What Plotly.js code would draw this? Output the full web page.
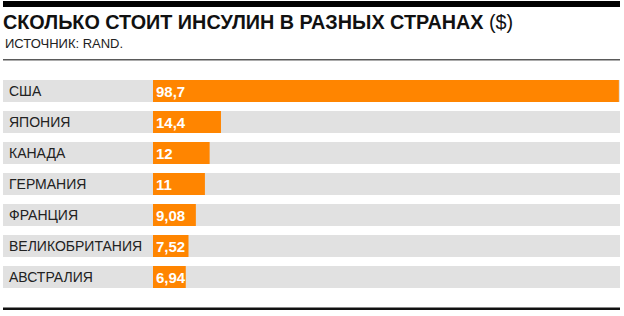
<!DOCTYPE html>
<html><head><meta charset="utf-8">
<script src="https://cdn.plot.ly/plotly-3.0.1.min.js"></script>
<style>html,body{margin:0;padding:0;background:#fff}#chart{width:624px;height:316px}</style>
</head><body><div id="chart"></div>
<script>
const countries = ["США","ЯПОНИЯ","КАНАДА","ГЕРМАНИЯ","ФРАНЦИЯ","ВЕЛИКОБРИТАНИЯ","АВСТРАЛИЯ"];
const prices = [98.7, 14.4, 12, 11, 9.08, 7.52, 6.94];
const priceLabels = ["98,7","14,4","12","11","9,08","7,52","6,94"];
const titleText = "СКОЛЬКО СТОИТ ИНСУЛИН В РАЗНЫХ СТРАНАХ";
const titleUnit = "($)";
const sourceText = "ИСТОЧНИК: RAND.";

const orange = "#FF8500";
const gray = "#E1E1E1";
const W = 624, H = 316;
const rowTop = 91, rowPitch = 31;   // pixel centre of first row, row spacing
function py(p){ return 1 - p/H; }
function px(p){ return p/W; }

// y axis spans the whole figure; category range chosen so rows sit at the right pixels
const yRange = [(H - rowTop)/rowPitch, -rowTop/rowPitch];

const shapes = [];
countries.forEach((c,i)=>{
  shapes.push({type:"rect", xref:"x domain", yref:"y", x0:0, x1:1, y0:i-0.355, y1:i+0.355, fillcolor:gray, line:{width:0}, layer:"below"});
});
shapes.push(
  {type:"rect", xref:"x domain", yref:"y domain", x0:0, x1:1, y0:py(7), y1:py(1), fillcolor:"#000", line:{width:0}, layer:"above"},
  {type:"rect", xref:"x domain", yref:"y domain", x0:0, x1:1, y0:py(60.5), y1:py(59), fillcolor:"#5a5a5a", line:{width:0}, layer:"above"},
  {type:"rect", xref:"x domain", yref:"y domain", x0:0, x1:1, y0:py(310), y1:py(307.5), fillcolor:"#111", line:{width:0}, layer:"above"}
);

const annotations = [
  {xref:"paper", yref:"paper", x:px(3), y:py(44), xanchor:"left", yanchor:"middle", showarrow:false, text:sourceText, font:{family:"Liberation Sans, Arial, sans-serif", size:13, color:"#222"}}
];
countries.forEach((c,i)=>{
  annotations.push({xref:"x domain", yref:"y", x:0, y:i, xanchor:"left", yanchor:"middle", xshift:4, showarrow:false, text:c, font:{family:"Liberation Sans, Arial, sans-serif", size:14, color:"#222"}});
});

const trace = {
  type:"bar", orientation:"h", x:prices, y:countries,
  marker:{color:orange, line:{width:0}},
  text:priceLabels, textposition:"inside", insidetextanchor:"start", constraintext:"none", textangle:0,
  textfont:{family:"Liberation Sans, Arial, sans-serif", size:15, color:"#fff", weight:"bold"},
  hoverinfo:"none", cliponaxis:false
};

const layout = {
  width:W, height:H,
  margin:{l:0, r:0, t:0, b:0, pad:0},
  paper_bgcolor:"#fff", plot_bgcolor:"rgba(0,0,0,0)",
  title:{text:"<b>"+titleText+"</b> "+titleUnit, x:px(3), xanchor:"left", xref:"paper", y:py(22.5), yanchor:"middle", yref:"paper",
         font:{family:"Liberation Sans, Arial, sans-serif", size:19.8, color:"#111"}},
  xaxis:{domain:[px(3), px(620)], range:[-31.78, 98.94], visible:false, fixedrange:true},
  yaxis:{domain:[0, 1], type:"category", range:yRange, visible:false, fixedrange:true},
  bargap:0.29, showlegend:false,
  shapes:shapes, annotations:annotations
};
Plotly.newPlot("chart", [trace], layout, {displayModeBar:false, staticPlot:true});
</script></body></html>
